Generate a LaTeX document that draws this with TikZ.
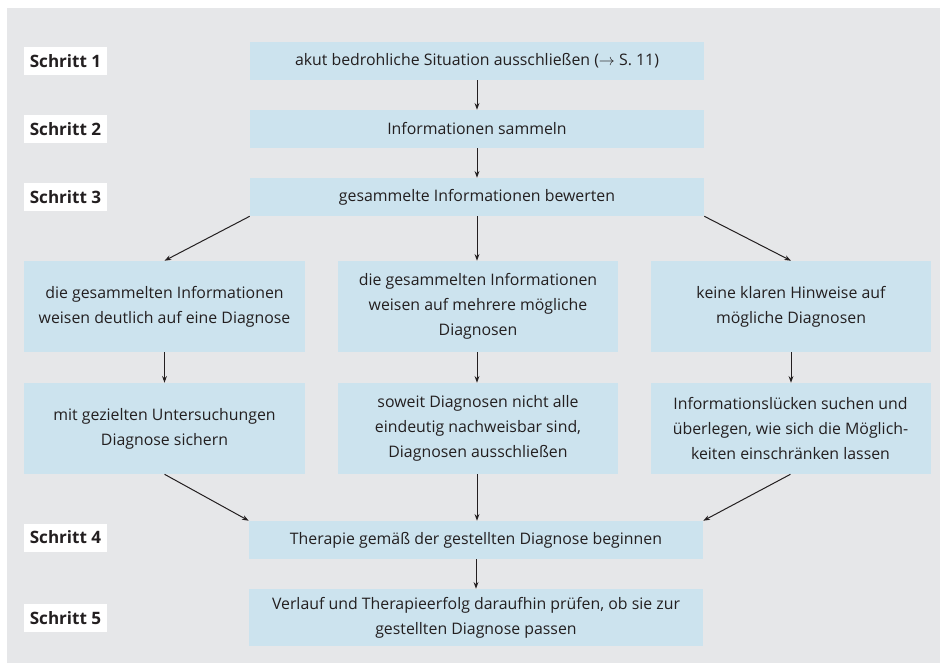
\documentclass[tikz,border=0pt]{standalone}
\usepackage{fontspec}
\setmainfont{Open Sans}
\usetikzlibrary{arrows.meta}
\definecolor{bgray}{RGB}{230,231,233}
\definecolor{bblue}{RGB}{204,227,238}
\definecolor{tdark}{RGB}{35,31,32}
\begin{document}
\begin{tikzpicture}[x=0.75pt,y=-0.75pt,
  box/.style={fill=bblue,inner sep=0pt,align=center,text=tdark,
    font=\fontsize{11.9pt}{18.75pt}\selectfont},
  steplabel/.style={fill=white,inner sep=0pt,minimum width=83*0.75pt,minimum height=28*0.75pt,
    text=tdark,font=\fontsize{12.8pt}{14pt}\selectfont\bfseries},
  conn/.style={draw=tdark,line width=0.75pt,-{Stealth[length=5pt,width=3.6pt]}}]
\useasboundingbox (0,0) rectangle (940,663);
\fill[bgray] (7,8) rectangle (940,663);
% step labels
\node[steplabel] (l1) at (65.5,61) {Schritt 1};
\node[steplabel] (l2) at (65.5,129) {Schritt 2};
\node[steplabel] (l3) at (65.5,197) {Schritt 3};
\node[steplabel] (l4) at (65.5,537.5) {Schritt 4};
\node[steplabel] (l5) at (65.5,618) {Schritt 5};
% main boxes
\node[box,minimum width=454*0.75pt,minimum height=38*0.75pt] (s1) at (477,61) {akut bedrohliche Situation ausschließen ($\rightarrow$ S. 11)};
\node[box,minimum width=454*0.75pt,minimum height=38*0.75pt] (s2) at (477,129) {Informationen sammeln};
\node[box,minimum width=454*0.75pt,minimum height=38*0.75pt] (s3) at (477,197) {gesammelte Informationen bewerten};
\node[box,minimum width=281*0.75pt,minimum height=91*0.75pt] (a1) at (164.5,306.5) {die gesammelten Informationen\\weisen deutlich auf eine Diagnose};
\node[box,minimum width=280*0.75pt,minimum height=91*0.75pt] (a2) at (478,306.5) {die gesammelten Informationen\\weisen auf mehrere mögliche\\Diagnosen};
\node[box,minimum width=280*0.75pt,minimum height=91*0.75pt] (a3) at (791,306.5) {keine klaren Hinweise auf\\mögliche Diagnosen};
\node[box,minimum width=281*0.75pt,minimum height=91*0.75pt] (b1) at (164.5,428.5) {mit gezielten Untersuchungen\\Diagnose sichern};
\node[box,minimum width=280*0.75pt,minimum height=91*0.75pt] (b2) at (478,428.5) {soweit Diagnosen nicht alle\\eindeutig nachweisbar sind,\\Diagnosen ausschließen};
\node[box,minimum width=280*0.75pt,minimum height=91*0.75pt] (b3) at (790.5,428.5) {Informationslücken suchen und\\überlegen, wie sich die Möglich-\\keiten einschränken lassen};
\node[box,minimum width=454*0.75pt,minimum height=38*0.75pt] (s4) at (476,540) {Therapie gemäß der gestellten Diagnose beginnen};
\node[box,minimum width=454*0.75pt,minimum height=57*0.75pt] (s5) at (476,617.5) {Verlauf und Therapieerfolg daraufhin prüfen, ob sie zur\\gestellten Diagnose passen};
% connectors
\draw[conn] (s1.south) -- (s2.north);
\draw[conn] (s2.south) -- (s3.north);
\draw[conn] (s3.south) -- (s3.south |- a2.north);
\draw[conn] (s3.south west) -- (a1.north);
\draw[conn] (s3.south east) -- (a3.north);
\draw[conn] (a1.south) -- (b1.north);
\draw[conn] (s3.south |- a2.south) -- (s3.south |- b2.north);
\draw[conn] (a3.south) -- (a3.south |- b3.north);
\draw[conn] (b1.south) -- (s4.north west);
\draw[conn] (s3.south |- b2.south) -- (s3.south |- s4.north);
\draw[conn] (b3.south) -- (s4.north east);
\draw[conn] (s4.south) -- (s5.north);
\end{tikzpicture}
\end{document}
